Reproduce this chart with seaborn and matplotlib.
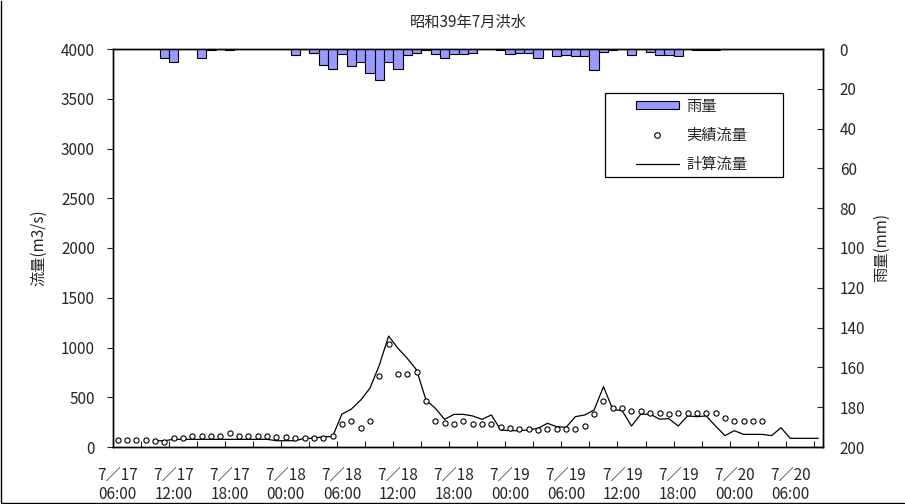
import numpy as np
import pandas as pd
import matplotlib
matplotlib.use("Agg")
import matplotlib.pyplot as plt
import seaborn as sns
from matplotlib.patches import Rectangle, Patch
from matplotlib.lines import Line2D

# === Data (hourly, starting 7/17 06:00) ===
tick_labels = ["7／17\n06:00", "7／17\n12:00", "7／17\n18:00", "7／18\n00:00", "7／18\n06:00",
               "7／18\n12:00", "7／18\n18:00", "7／19\n00:00", "7／19\n06:00", "7／19\n12:00",
               "7／19\n18:00", "7／20\n00:00", "7／20\n06:00"]

# rainfall (mm), one value per hour, 76 hours
rain_mm = [0, 0, 0, 0, 0, 4.7, 6.7, 0, 0, 4.7,
           0.5, 0, 0.5, 0, 0, 0, 0, 0, 0, 3.0,
           0, 2.0, 7.9, 10.0, 2.5, 8.4, 6.5, 12.0, 15.4, 6.5,
           10.0, 3.0, 2.0, 0.3, 2.5, 4.7, 2.5, 2.5, 2.0, 0,
           0, 0.5, 2.5, 2.0, 2.0, 4.6, 0, 3.7, 3.0, 3.7,
           3.7, 10.7, 1.7, 0.3, 0.2, 3.0, 0, 1.7, 3.0, 3.0,
           3.7, 0, 0.5, 0.5, 0.5, 0, 0, 0, 0, 0,
           0, 0, 0, 0, 0, 0]

# observed discharge (m3/s), from hour 0
obs_flow = [70, 70, 70, 70, 60, 55, 87, 87, 114, 114,
            114, 114, 144, 114, 114, 114, 114, 97, 97, 87,
            87, 87, 87, 110, 231, 264, 194, 264, 713, 1035,
            730, 730, 757, 462, 261, 245, 228, 265, 231, 231,
            231, 198, 195, 184, 181, 168, 184, 184, 184, 184,
            211, 328, 459, 389, 389, 362, 358, 345, 345, 332,
            345, 345, 345, 345, 345, 295, 261, 261, 261, 261]

# computed discharge (m3/s), from hour 4
calc_start = 4
calc_flow = [63, 63, 77, 77, 77, 77, 77, 77, 77, 77,
             77, 77, 77, 63, 63, 63, 87, 87, 104, 104,
             330, 380, 470, 590, 820, 1115, 992, 891, 774, 472,
             389, 278, 328, 328, 312, 278, 322, 171, 164, 164,
             171, 188, 238, 204, 198, 305, 322, 372, 606, 378,
             365, 211, 330, 330, 280, 285, 211, 312, 305, 312,
             211, 114, 164, 127, 127, 127, 114, 194, 87, 87,
             87, 87]

rain_df = pd.DataFrame({"hour": np.arange(len(rain_mm)), "rain": rain_mm})
obs_df = pd.DataFrame({"hour": np.arange(len(obs_flow)), "flow": obs_flow})
calc_df = pd.DataFrame({"hour": np.arange(len(calc_flow)) + calc_start, "flow": calc_flow})

# === Style ===
sns.set_style("ticks")
plt.rcParams["font.family"] = ["Noto Sans CJK JP", "DejaVu Sans"]
plt.rcParams["font.size"] = 11

fig, ax = plt.subplots(figsize=(9.05, 5.04), dpi=100)
fig.subplots_adjust(left=113 / 905, right=823 / 905, top=1 - 49 / 504, bottom=1 - 447 / 504)
ax2 = ax.twinx()

# === Discharge ===
sns.lineplot(data=calc_df, x="hour", y="flow", color="black", linewidth=0.9, ax=ax)
sns.scatterplot(data=obs_df, x="hour", y="flow", marker="o", s=14, facecolor="white",
                edgecolor="black", linewidth=0.8, ax=ax, zorder=3)
ax.set_ylim(0, 4000)
ax.set_yticks(np.arange(0, 4001, 500))

# === Rainfall (hanging bars) ===
sns.barplot(data=rain_df, x="hour", y="rain", native_scale=True, width=1.0, color="#9999ff",
            saturation=1, edgecolor="black", linewidth=0.8, errorbar=None, ax=ax2)
ax2.set_ylim(200, 0)
ax2.set_yticks(np.arange(0, 201, 20))

# === X axis ===
ax.set_xlim(-0.5, 75.5)
ax2.set_xlim(-0.5, 75.5)
ax.set_xticks(np.arange(0, 73, 6))
ax.set_xticklabels(tick_labels, linespacing=1.1)
ax.set_xticks(np.arange(-0.5, 75, 3), minor=True)
ax.tick_params(axis="x", which="major", length=0, pad=15)
ax.tick_params(axis="x", which="minor", direction="in", length=4, width=0.8)
ax.tick_params(axis="y", direction="out", length=4, width=0.8, pad=9)
ax2.tick_params(axis="y", direction="in", length=4, width=0.8, pad=12)

for a in (ax, ax2):
    for sp in a.spines.values():
        sp.set_visible(True)
        sp.set_linewidth(1.0)
        sp.set_color("black")

ax.set_xlabel("")
ax.set_ylabel("流量(m3/s)")
ax.yaxis.set_label_coords(-0.093, 0.5)
ax2.set_ylabel("雨量(mm)")
ax2.yaxis.set_label_coords(1.070, 0.5)
ax.set_title("昭和39年7月洪水", fontsize=11, pad=16)

# === Legend ===
handles = [
    Patch(facecolor="#9999ff", edgecolor="black", linewidth=0.8),
    Line2D([], [], marker="o", linestyle="none", markerfacecolor="white",
           markeredgecolor="black", markersize=4, markeredgewidth=0.8),
    Line2D([], [], color="black", linewidth=0.9),
]
leg = ax2.legend(handles, ["雨量", "実績流量", "計算流量"], loc="center left",
                 bbox_to_anchor=(636 / 905, 1 - 135 / 504), bbox_transform=fig.transFigure,
                 frameon=False, handlelength=2.8, handleheight=0.45, labelspacing=0.78,
                 borderpad=0, borderaxespad=0, handletextpad=0.48)
leg.set_zorder(6)
# legend box drawn separately (wider side margins than matplotlib's borderpad allows)
ax2.add_patch(Rectangle((605 / 905, 1 - 177 / 504), 178 / 905, 84 / 504,
                        transform=fig.transFigure, facecolor="white", clip_on=False,
                        edgecolor="black", linewidth=0.9, zorder=5))

# chart border (left and bottom edges)
fig.add_artist(Line2D([0.001, 0.001, 0.999], [0.999, 0.002, 0.002], transform=fig.transFigure,
                      color="black", linewidth=1))

plt.savefig("out.png", dpi=100)
